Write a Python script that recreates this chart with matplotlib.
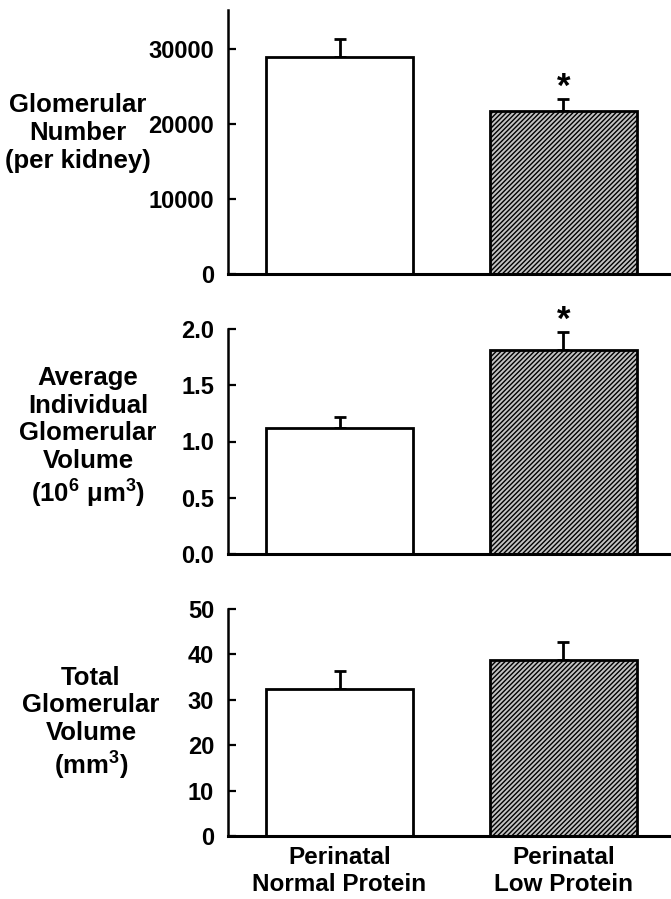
import matplotlib
matplotlib.use("Agg")
import matplotlib.pyplot as plt

plt.rcParams['font.family'] = ['Liberation Sans', 'DejaVu Sans']
plt.rcParams['font.weight'] = 'bold'
plt.rcParams['mathtext.fontset'] = 'custom'
plt.rcParams['mathtext.rm'] = 'Liberation Sans'
plt.rcParams['mathtext.it'] = 'Liberation Sans'
plt.rcParams['mathtext.bf'] = 'Liberation Sans:bold'
plt.rcParams['mathtext.default'] = 'regular'
plt.rcParams['hatch.linewidth'] = 1.0
plt.rcParams['hatch.color'] = '#2a2a2a'

categories = ["Perinatal\nNormal Protein", "Perinatal\nLow Protein"]

number_means = [28900, 21700]
number_errs = [2400, 1600]
number_ticks = [0, 10000, 20000, 30000]

avgvol_means = [1.12, 1.81]
avgvol_errs = [0.10, 0.16]
avgvol_ticks = [0.0, 0.5, 1.0, 1.5, 2.0]
avgvol_ticklabels = ["0.0", "0.5", "1.0", "1.5", "2.0"]

totvol_means = [32.4, 38.8]
totvol_errs = [4.0, 4.0]
totvol_ticks = [0, 10, 20, 30, 40, 50]

significant = [[False, True], [False, True], [False, False]]

ylabels = ["Glomerular\nNumber\n(per kidney)",
           "Average\nIndividual\nGlomerular\nVolume\n(10$^{6}$ $\\mu$m$^{3}$)",
           "Total\nGlomerular\nVolume\n(mm$^{3}$)"]

W, H = 671, 899
fig = plt.figure(figsize=(W / 100, H / 100), dpi=100)

def ax_rect(top_px, bottom_px, left_px=228, right_px=671):
    return [left_px / W, 1 - bottom_px / H, (right_px - left_px) / W, (bottom_px - top_px) / H]

panels = [
    dict(rect=ax_rect(10, 274), means=number_means, errs=number_errs, ticks=number_ticks,
         ticklabels=[str(t) for t in number_ticks], ylim=(0, 35200), ylabel_xy=(78, 133)),
    dict(rect=ax_rect(329, 554), means=avgvol_means, errs=avgvol_errs, ticks=avgvol_ticks,
         ticklabels=avgvol_ticklabels, ylim=(0, 2.0), ylabel_xy=(88, 438)),
    dict(rect=ax_rect(609, 836), means=totvol_means, errs=totvol_errs, ticks=totvol_ticks,
         ticklabels=[str(t) for t in totvol_ticks], ylim=(0, 50), ylabel_xy=(91, 724)),
]

x = [0, 1]
for i, p in enumerate(panels):
    ax = fig.add_axes(p['rect'])
    bars = ax.bar(x, p['means'], width=0.66, color=['white', '#c2c2c2'],
                  edgecolor='black', linewidth=2.0, zorder=2)
    bars[1].set_hatch('///////')
    ax.errorbar(x, p['means'], yerr=[[0, 0], p['errs']], fmt='none', ecolor='black',
                elinewidth=2.0, capsize=4, capthick=2.0, zorder=1)
    ax.set_xlim(-0.498, 1.48)
    ax.set_ylim(*p['ylim'])
    ax.set_yticks(p['ticks'])
    ax.set_yticklabels(p['ticklabels'], fontsize=17, fontweight='bold')
    ax.tick_params(axis='y', direction='in', length=6, width=1.6, pad=10)
    for s in ['top', 'right']:
        ax.spines[s].set_visible(False)
    ax.spines['left'].set_linewidth(1.8)
    ax.spines['bottom'].set_linewidth(2.2)
    if i == 2:
        ax.set_xticks(x)
        ax.set_xticklabels(categories, fontsize=17.5, fontweight='bold', linespacing=1.25)
        ax.tick_params(axis='x', length=0, pad=7)
    else:
        ax.set_xticks([])
    for j, sig in enumerate(significant[i]):
        if sig:
            top = p['means'][j] + p['errs'][j]
            ax.annotate('*', xy=(x[j], top), xytext=(0, 2), textcoords='offset points',
                        ha='center', va='baseline', fontsize=25, fontweight='bold',
                        annotation_clip=False)
    lx, ly = p['ylabel_xy']
    fig.text(lx / W, 1 - ly / H, ylabels[i], ha='center', va='center', fontsize=18.5,
             fontweight='bold', linespacing=1.2)

fig.savefig("out.png", dpi=100)
